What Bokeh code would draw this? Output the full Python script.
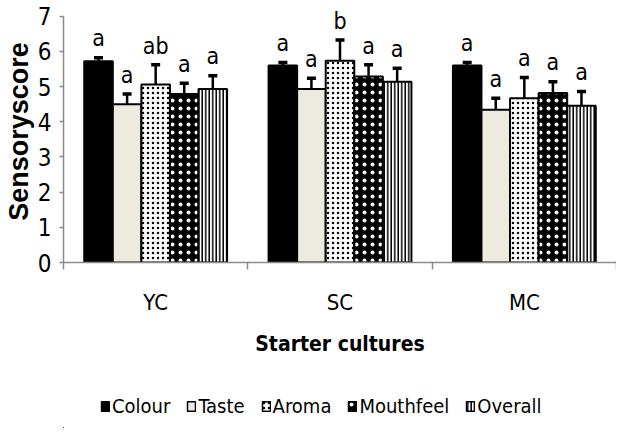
from bokeh.plotting import figure
from bokeh.layouts import column
from bokeh.models import (Range1d, FixedTicker, Whisker, TeeHead, ColumnDataSource,
                          Legend, LegendItem)
from bokeh.core.properties import value
from bokeh.embed import file_html
from bokeh.resources import INLINE

# ---------------- data ----------------
cultures = ["YC", "SC", "MC"]
attributes = ["Colour", "Taste", "Aroma", "Mouthfeel", "Overall"]

colour_mean = [5.72, 5.60, 5.60]
taste_mean = [4.50, 4.93, 4.34]
aroma_mean = [5.06, 5.74, 4.67]
mouthfeel_mean = [4.79, 5.29, 4.82]
overall_mean = [4.93, 5.14, 4.46]

colour_sd = [0.10, 0.09, 0.09]
taste_sd = [0.29, 0.31, 0.33]
aroma_sd = [0.56, 0.59, 0.59]
mouthfeel_sd = [0.31, 0.33, 0.32]
overall_sd = [0.38, 0.38, 0.40]

colour_sig = ["a", "a", "a"]
taste_sig = ["a", "a", "a"]
aroma_sig = ["ab", "b", "a"]
mouthfeel_sig = ["a", "a", "a"]
overall_sig = ["a", "a", "a"]

y_ticks = [0, 1, 2, 3, 4, 5, 6, 7]

means = [colour_mean, taste_mean, aroma_mean, mouthfeel_mean, overall_mean]
sds = [colour_sd, taste_sd, aroma_sd, mouthfeel_sd, overall_sd]
sigs = [colour_sig, taste_sig, aroma_sig, mouthfeel_sig, overall_sig]

# ---------------- style ----------------
NARROW = "'DejaVu Sans Condensed', 'Liberation Sans', sans-serif"
AXIS_GRAY = "#8a8a8a"
BAR_W = 0.155
LABEL_GAP = 0.55

bar_styles = [
    dict(fill_color="black"),
    dict(fill_color="#EDEAE0"),
    dict(fill_color="white", hatch_pattern="dot", hatch_color="black",
         hatch_scale=5, hatch_weight=1),
    dict(fill_color="black", hatch_pattern="dot", hatch_color="white",
         hatch_scale=8, hatch_weight=0.3),
    dict(fill_color="white", hatch_pattern="vertical_line", hatch_color="black",
         hatch_scale=3.5, hatch_weight=1.5),
]

p = figure(frame_width=553, frame_height=262,
           x_range=Range1d(0, len(cultures)), y_range=Range1d(0, 7.45),
           output_backend="svg", toolbar_location=None,
           min_border_left=51, min_border_right=0, min_border_top=0,
           min_border_bottom=0)
p.outline_line_color = None
p.xgrid.visible = False
p.ygrid.visible = False

sources = []
n = len(attributes)
for j, name in enumerate(attributes):
    xs = [i + 0.5 + (j - (n - 1) / 2) * BAR_W for i in range(len(cultures))]
    upper = [m + s for m, s in zip(means[j], sds[j])]
    src = ColumnDataSource(dict(
        x=xs, top=means[j], upper=upper,
        lab_y=[u + LABEL_GAP for u in upper], sig=sigs[j]))
    sources.append(src)
    p.vbar(x="x", top="top", bottom=0, width=BAR_W, source=src,
           line_color="black", line_width=2, **bar_styles[j])
    w = Whisker(source=src, base="x", lower="top", upper="upper",
                line_color="black", line_width=2.5,
                upper_head=TeeHead(size=9, line_width=3.5, line_color="black"),
                lower_head=None)
    p.add_layout(w)
    p.text(x="x", y="lab_y", text="sig", source=src, text_align="center",
           text_baseline="alphabetic", text_font=value(NARROW),
           text_font_size="23px", text_color="black")

# y axis
yax = p.yaxis[0]
yax.ticker = FixedTicker(ticks=y_ticks)
yax.bounds = (0, 7)
yax.axis_line_color = AXIS_GRAY
yax.axis_line_width = 1.5
yax.major_tick_line_color = AXIS_GRAY
yax.major_tick_line_width = 1.5
yax.major_tick_in = 0
yax.major_tick_out = 4
yax.minor_tick_line_color = None
yax.major_label_text_font = NARROW
yax.major_label_text_font_size = "24px"
yax.major_label_text_color = "black"
yax.major_label_standoff = 8
yax.axis_label = "Sensoryscore"
yax.axis_label_text_font = "Liberation Sans"
yax.axis_label_text_font_style = "bold"
yax.axis_label_text_font_size = "27px"
yax.axis_label_text_color = "black"
yax.axis_label_standoff = 1

# x axis
xax = p.xaxis[0]
centers = [i + 0.5 for i in range(len(cultures))]
xax.ticker = FixedTicker(ticks=centers,
                         minor_ticks=list(range(len(cultures) + 1)))
xax.major_label_overrides = {c: lab for c, lab in zip(centers, cultures)}
xax.axis_line_color = AXIS_GRAY
xax.axis_line_width = 1.5
xax.major_tick_line_color = None
xax.major_tick_in = 0
xax.major_tick_out = 0
xax.minor_tick_line_color = AXIS_GRAY
xax.minor_tick_line_width = 1.5
xax.minor_tick_in = 0
xax.minor_tick_out = 7
xax.major_label_text_font = NARROW
xax.major_label_text_font_size = "22px"
xax.major_label_text_color = "black"
xax.major_label_standoff = 20
xax.axis_label = "Starter cultures"
xax.axis_label_text_font = NARROW
xax.axis_label_text_font_style = "bold"
xax.axis_label_text_font_size = "21px"
xax.axis_label_text_color = "black"
xax.axis_label_standoff = 14

# ---------------- legend strip (separate small figure) ----------------
# The same sources are drawn here, but the view range keeps the bars out of
# sight, so only the legend (with its swatches) shows.
lg = figure(width=606, height=70, output_backend="svg", toolbar_location=None,
            min_border_left=0, min_border_right=0, min_border_top=0,
            min_border_bottom=0, x_range=Range1d(100, 101),
            y_range=Range1d(100, 101))
lg.axis.visible = False
lg.grid.visible = False
lg.outline_line_color = None

items = []
for j, name in enumerate(attributes):
    r = lg.vbar(x="x", top="top", bottom=0, width=BAR_W, source=sources[j],
                line_color="black", line_width=1.5, **bar_styles[j])
    items.append(LegendItem(label=name, renderers=[r]))

legend = Legend(items=items, orientation="horizontal", location=(37, 10),
                label_text_font=NARROW, label_text_font_size="20px",
                label_text_color="black", glyph_width=10, glyph_height=12,
                label_standoff=2, spacing=16, padding=0, margin=0,
                border_line_color=None, background_fill_alpha=0)
lg.add_layout(legend)

open("out.html", "w").write(file_html(column(p, lg), INLINE))
